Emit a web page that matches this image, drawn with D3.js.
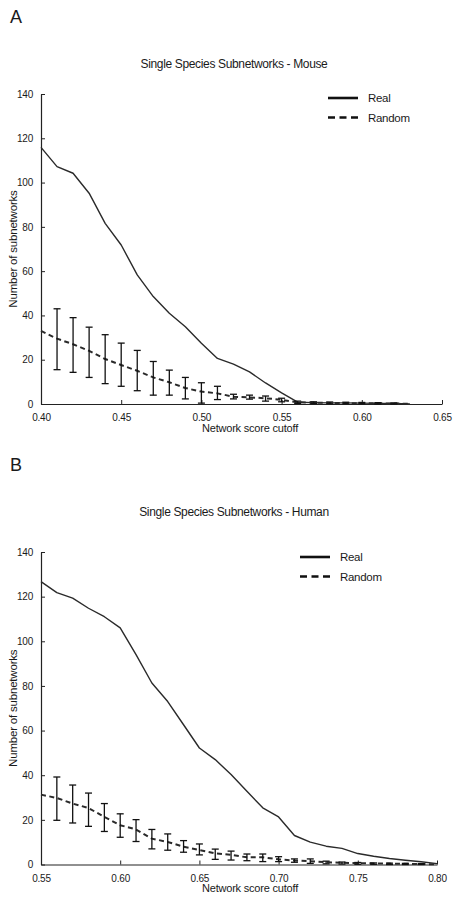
<!DOCTYPE html>
<html>
<head>
<meta charset="utf-8">
<script src="https://cdn.jsdelivr.net/npm/d3@7"></script>
<style>
  html, body { margin: 0; padding: 0; background: #fff; }
  svg { display: block; font-family: "Liberation Sans", Arial, sans-serif; }
</style>
</head>
<body>
<svg id="chart" width="455" height="897"></svg>
<script>
// ---------- Panel A: Mouse ----------
const mouseCutoffs = [0.40,0.41,0.42,0.43,0.44,0.45,0.46,0.47,0.48,0.49,0.50,0.51,0.52,0.53,0.54,0.55,0.56,0.57,0.58,0.59,0.60,0.61,0.62,0.63];
const mouseReal    = [115.9,107.2,104.2,95.2,81.6,71.8,58.3,48.5,41,34.9,27.4,20.6,18,14.5,9.5,5,0.8,0.6,0.5,0.5,0.4,0.3,0.3,0];
const mouseRandMean= [33,29.5,27,24,20.3,17.6,15,12,9.8,7.2,5.6,4.8,3.3,3,2.6,1.9,0.8,0.6,0.5,0.4,0.35,0.3,0.25,0.1];
const mouseRandLow = [null,15.5,14.3,12,9.2,8,6,4,4,2.3,0.4,2,2.3,2.2,1.3,1,0.3,0.2,0.1,0.1,0.1,0,0,null];
const mouseRandHigh= [null,43,39,34.7,31.3,27.5,24.2,19.2,15.3,12,9.6,8,4.4,4,3.6,2.6,1.3,1,0.9,0.8,0.7,0.6,0.5,null];
const mouseXTicks  = [0.40,0.45,0.50,0.55,0.60,0.65];

// ---------- Panel B: Human ----------
const humanCutoffs = [0.55,0.56,0.57,0.58,0.59,0.60,0.61,0.62,0.63,0.64,0.65,0.66,0.67,0.68,0.69,0.70,0.71,0.72,0.73,0.74,0.75,0.76,0.77,0.78,0.79,0.80];
const humanReal    = [126.7,121.8,119.3,114.8,111,106,94,81.3,73,62.6,52.2,47,40.3,32.8,25.4,21.3,13,10,8.2,7.2,4.9,3.7,2.7,1.9,1.2,0.4];
const humanRandMean= [31.3,29.8,27.3,25.3,21.3,17.6,15.7,11.6,10.1,8,6.5,5,4.3,3.2,3.2,2.3,1.8,1.5,1,0.8,0.6,0.5,0.4,0.3,0.2,0.1];
const humanRandLow = [null,19.8,18.6,17.1,14.8,12.2,10.3,7,6.4,5.5,4.3,2.3,2,1.7,1.3,1.3,1,0.5,0.3,0.2,0.1,0.1,0,0,0,null];
const humanRandHigh= [null,39.2,35.6,32,27.3,22.7,20.1,15.7,13.7,10.7,9.2,6.9,6,4.7,4.7,3.5,2.5,2.5,1.5,1.1,0.9,0.7,0.6,0.5,0.4,null];
const humanXTicks  = [0.55,0.60,0.65,0.70,0.75,0.80];

const yTicks = [0,20,40,60,80,100,120,140];
const legendLabels = ["Real","Random"];

const svg = d3.select("#chart");
const ink = "#1a1a1a";

function drawPanel(o) {
  const g = svg.append("g");
  const x = d3.scaleLinear().domain(o.xDomain).range([o.x0, o.x1]);
  const y = d3.scaleLinear().domain([0,140]).range([o.y0, o.y1]);

  g.append("text").attr("x", 10).attr("y", o.letterY)
    .attr("font-size", 18).attr("fill", ink).text(o.letter);
  g.append("text").attr("x", o.titleX).attr("y", o.titleY)
    .attr("text-anchor", "middle").attr("font-size", 12).attr("letter-spacing", -0.35)
    .attr("fill", ink).text(o.title);

  const xAxis = d3.axisBottom(x).tickValues(o.xTicks).tickFormat(d3.format(".2f"))
    .tickSizeInner(-4).tickSizeOuter(0).tickPadding(10);
  const yAxis = d3.axisLeft(y).tickValues(yTicks).tickFormat(d3.format("d"))
    .tickSizeInner(-4).tickSizeOuter(0).tickPadding(8);
  const gx = g.append("g").attr("transform", `translate(0,${o.y0})`).call(xAxis);
  const gy = g.append("g").attr("transform", `translate(${o.x0},0)`).call(yAxis);
  [gx, gy].forEach(a => {
    a.select(".domain").attr("stroke", "#222").attr("stroke-width", 1.2);
    a.selectAll(".tick line").attr("stroke", "#222").attr("stroke-width", 1);
    a.selectAll(".tick text").attr("font-size", 10).attr("fill", ink)
      .attr("font-family", "'Liberation Sans', Arial, sans-serif").attr("letter-spacing", -0.2);
  });

  g.append("text").attr("x", o.xLabelX).attr("y", o.xLabelY).attr("text-anchor", "middle")
    .attr("font-size", 11).attr("letter-spacing", -0.2).attr("fill", ink).text("Network score cutoff");
  g.append("text").attr("transform", `translate(17,${(o.y0 + o.y1) / 2}) rotate(-90)`)
    .attr("text-anchor", "middle").attr("font-size", 11.5).attr("letter-spacing", -0.2)
    .attr("fill", ink).text("Number of subnetworks");

  const realPts = o.cut.map((c, i) => [c, o.real[i]]);
  const randPts = o.cut.map((c, i) => [c, o.mean[i]]);
  const line = d3.line().x(d => x(d[0])).y(d => y(d[1]));

  g.append("path").datum(realPts).attr("d", line).attr("fill", "none")
    .attr("stroke", "#2a2a2a").attr("stroke-width", 1.4).attr("stroke-linejoin", "round");
  g.append("path").datum(randPts).attr("d", line)
    .attr("fill", "none").attr("stroke", "#2a2a2a").attr("stroke-width", 2)
    .attr("stroke-dasharray", "5,3.5");

  const eb = o.cut.map((c, i) => ({c, lo: o.lo[i], hi: o.hi[i]})).filter(d => d.lo !== null);
  const cap = 3.5;
  const ebg = g.append("g").attr("stroke", "#111").attr("stroke-width", 1.3);
  eb.forEach(d => {
    ebg.append("line").attr("x1", x(d.c)).attr("x2", x(d.c)).attr("y1", y(d.lo)).attr("y2", y(d.hi));
    ebg.append("line").attr("x1", x(d.c) - cap).attr("x2", x(d.c) + cap).attr("y1", y(d.lo)).attr("y2", y(d.lo));
    ebg.append("line").attr("x1", x(d.c) - cap).attr("x2", x(d.c) + cap).attr("y1", y(d.hi)).attr("y2", y(d.hi));
  });

  const lg = g.append("g");
  legendLabels.forEach((lab, i) => {
    const ly = o.legY + i * 19.5;
    lg.append("line").attr("x1", o.legX).attr("x2", o.legX + 30).attr("y1", ly).attr("y2", ly)
      .attr("stroke", "#111").attr("stroke-width", 2.6)
      .attr("stroke-dasharray", i === 1 ? "7,4.5" : null);
    lg.append("text").attr("x", o.legX + 40).attr("y", ly).attr("dy", "0.35em")
      .attr("font-size", 11.5).attr("letter-spacing", -0.3).attr("fill", ink).text(lab);
  });
}

drawPanel({
  letter: "A", letterY: 23, title: "Single Species Subnetworks - Mouse", titleX: 234, titleY: 68,
  xDomain: [0.40, 0.65], x0: 41, x1: 442, y0: 404, y1: 94, xTicks: mouseXTicks,
  xLabelX: 250, xLabelY: 432,
  cut: mouseCutoffs, real: mouseReal, mean: mouseRandMean, lo: mouseRandLow, hi: mouseRandHigh,
  legX: 328, legY: 98
});
drawPanel({
  letter: "B", letterY: 471, title: "Single Species Subnetworks - Human", titleX: 234, titleY: 516,
  xDomain: [0.55, 0.80], x0: 41, x1: 437, y0: 864.5, y1: 552, xTicks: humanXTicks,
  xLabelX: 250, xLabelY: 892,
  cut: humanCutoffs, real: humanReal, mean: humanRandMean, lo: humanRandLow, hi: humanRandHigh,
  legX: 300, legY: 557
});
</script>
</body>
</html>
